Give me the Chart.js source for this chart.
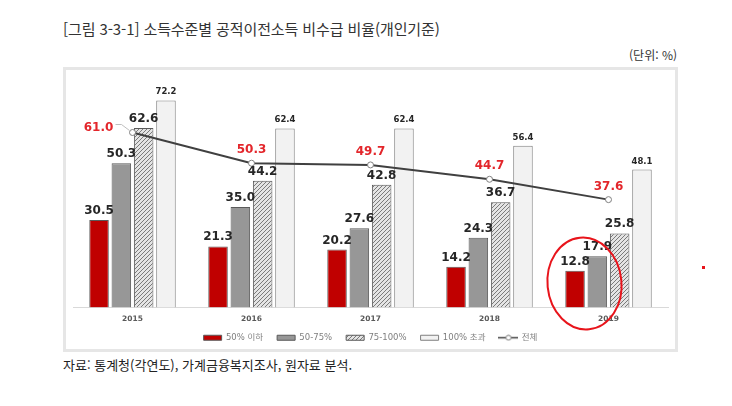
<!DOCTYPE html>
<html lang="ko">
<head>
<meta charset="utf-8">
<title>소득수준별 공적이전소득 비수급 비율</title>
<script src="https://cdn.jsdelivr.net/npm/chart.js@4.4.1/dist/chart.umd.min.js"></script>
<style>
  html, body { margin: 0; padding: 0; background: #fff; }
  body { width: 732px; height: 406px; position: relative; overflow: hidden; font-family: "Noto Sans CJK KR", sans-serif; }
  #title { position: absolute; left: 63px; top: 20px; font-size: 15px; line-height: 18px; letter-spacing: -0.1px; color: #333; white-space: nowrap; }
  #unit { position: absolute; right: 55px; top: 47px; font-size: 12px; line-height: 16px; color: #333; }
  #box { position: absolute; left: 63px; top: 67px; width: 615px; height: 285px; border: 3px solid #e6e6e6; box-sizing: border-box; }
  #wrap { position: absolute; left: 66px; top: 70px; width: 609px; height: 282px; }
  #source { position: absolute; left: 63px; top: 357px; font-size: 13px; line-height: 16px; color: #222; white-space: nowrap; }
  #dot { position: absolute; left: 702px; top: 266px; width: 3px; height: 3px; background: #e8141b; }
</style>
</head>
<body>
<div id="title">[그림 3-3-1] 소득수준별 공적이전소득 비수급 비율(개인기준)</div>
<div id="unit">(단위: %)</div>
<div id="box"></div>
<div id="wrap"><canvas id="chart" width="609" height="282"></canvas></div>
<div id="source">자료: 통계청(각연도), 가계금융복지조사, 원자료 분석.</div>
<div id="dot"></div>
<script>
var years = ['2015', '2016', '2017', '2018', '2019'];
var below50 = [30.5, 21.3, 20.2, 14.2, 12.8];
var from50to75 = [50.3, 35.0, 27.6, 24.3, 17.9];
var from75to100 = [62.6, 44.2, 42.8, 36.7, 25.8];
var over100 = [72.2, 62.4, 62.4, 56.4, 48.1];
var total = [61.0, 50.3, 49.7, 44.7, 37.6];
var seriesNames = ['50% 이하', '50-75%', '75-100%', '100% 초과', '전체'];

var ctx = document.getElementById('chart').getContext('2d');

// diagonal hatch for the 75-100% bars
function makeHatch() {
  var c = document.createElement('canvas');
  c.width = 4;
  c.height = 4;
  var g = c.getContext('2d');
  g.fillStyle = '#e4e4e4';
  g.fillRect(0, 0, 4, 4);
  g.strokeStyle = '#7a7a7a';
  g.lineWidth = 1;
  g.beginPath();
  g.moveTo(0, 4); g.lineTo(4, 0);
  g.moveTo(-1, 1); g.lineTo(1, -1);
  g.moveTo(3, 5); g.lineTo(5, 3);
  g.stroke();
  return ctx.createPattern(c, 'repeat');
}

// legend icon for the line series
function makeLineIcon() {
  var c = document.createElement('canvas');
  c.width = 20;
  c.height = 7;
  var g = c.getContext('2d');
  g.strokeStyle = '#404040';
  g.lineWidth = 1.5;
  g.beginPath();
  g.moveTo(0, 3.5); g.lineTo(20, 3.5);
  g.stroke();
  g.fillStyle = '#fff';
  g.strokeStyle = '#7f7f7f';
  g.lineWidth = 1;
  g.beginPath();
  g.arc(10, 3.5, 2.5, 0, Math.PI * 2);
  g.fill();
  g.stroke();
  return c;
}

var hatch = makeHatch();
var lineIcon = makeLineIcon();

var valueLabels = {
  id: 'valueLabels',
  afterDatasetsDraw: function (chart) {
    var c = chart.ctx;
    c.save();
    c.textAlign = 'center';
    c.textBaseline = 'alphabetic';
    chart.data.datasets.forEach(function (ds, i) {
      var meta = chart.getDatasetMeta(i);
      meta.data.forEach(function (el, j) {
        var txt = ds.data[j].toFixed(1);
        if (ds.type === 'line') {
          c.font = 'bold 12px "DejaVu Sans"';
          c.fillStyle = '#e3262b';
          if (j === 0) {
            c.fillText(txt, el.x - 34, el.y - 2);
            c.strokeStyle = '#bfbfbf';
            c.lineWidth = 1;
            c.beginPath();
            c.moveTo(el.x - 17, el.y - 8);
            c.lineTo(el.x - 11, el.y - 8);
            c.lineTo(el.x - 3, el.y - 2);
            c.stroke();
          } else {
            c.fillText(txt, el.x, el.y - 10);
          }
        } else if (i === 3) {
          c.font = 'bold 8.5px "DejaVu Sans"';
          c.fillStyle = '#262626';
          c.fillText(txt, el.x, el.y - 6);
        } else {
          c.font = 'bold 12px "DejaVu Sans"';
          c.fillStyle = '#262626';
          c.fillText(txt, el.x, el.y - 6);
        }
      });
    });
    c.restore();
  }
};

// hand drawn red circle around the 2019 group
var redCircle = {
  id: 'redCircle',
  afterDraw: function (chart) {
    var x = chart.scales.x, y = chart.scales.y;
    var cx = x.getPixelForValue(4) - 24;
    var cy = y.getPixelForValue(0) - 24;
    var c = chart.ctx;
    c.save();
    c.strokeStyle = '#e8141b';
    c.lineWidth = 2;
    c.beginPath();
    c.ellipse(cx, cy, 37, 46, -0.1, 0, Math.PI * 2);
    c.stroke();
    c.restore();
  }
};

var myChart = new Chart(ctx, {
  data: {
    labels: years,
    datasets: [{
      type: 'bar',
      label: seriesNames[0],
      data: below50,
      backgroundColor: '#c00000',
      borderColor: '#5a5a5a',
      borderWidth: 1,
      order: 1
    }, {
      type: 'bar',
      label: seriesNames[1],
      data: from50to75,
      backgroundColor: '#979797',
      borderColor: '#5a5a5a',
      borderWidth: 1,
      order: 1
    }, {
      type: 'bar',
      label: seriesNames[2],
      data: from75to100,
      backgroundColor: hatch,
      borderColor: '#5a5a5a',
      borderWidth: 1,
      order: 1
    }, {
      type: 'bar',
      label: seriesNames[3],
      data: over100,
      backgroundColor: '#f2f2f2',
      borderColor: '#7f7f7f',
      borderWidth: 1,
      order: 1
    }, {
      type: 'line',
      label: seriesNames[4],
      data: total,
      borderColor: '#404040',
      borderWidth: 2,
      pointRadius: 3,
      pointBackgroundColor: '#fff',
      pointBorderColor: '#7f7f7f',
      pointBorderWidth: 1,
      order: 0
    }]
  },
  options: {
    responsive: false,
    animation: false,
    devicePixelRatio: 1,
    layout: { padding: { left: 7, right: 7, top: 8, bottom: 0 } },
    datasets: {
      bar: { categoryPercentage: 0.75, barPercentage: 0.875 }
    },
    scales: {
      x: {
        grid: { display: false, drawTicks: false },
        border: { display: true, color: '#d9d9d9', width: 1 },
        ticks: {
          padding: 7,
          color: '#595959',
          font: { family: 'DejaVu Sans', size: 7.5, weight: 'bold' }
        },
        afterFit: function (scale) {
          scale.height -= 11;
          // labels stick out of the shortened axis box, so don't clip them
          scale._computeLabelArea = function () {};
        }
      },
      y: {
        display: false,
        min: 0,
        max: 80
      }
    },
    plugins: {
      tooltip: { enabled: false },
      legend: {
        position: 'bottom',
        labels: {
          usePointStyle: true,
          pointStyleWidth: 18,
          boxHeight: 5,
          padding: 14,
          color: '#7f7f7f',
          font: { family: '"DejaVu Sans", "Noto Sans CJK KR"', size: 8.5 },
          sort: function (a, b) {
            return a.datasetIndex - b.datasetIndex;
          },
          generateLabels: function (chart) {
            var items = Chart.defaults.plugins.legend.labels.generateLabels(chart);
            items.forEach(function (item) {
              if (chart.data.datasets[item.datasetIndex].type === 'line') {
                item.pointStyle = lineIcon;
              } else {
                item.pointStyle = 'rect';
              }
            });
            return items;
          }
        }
      }
    }
  },
  plugins: [valueLabels, redCircle]
});
</script>
</body>
</html>
